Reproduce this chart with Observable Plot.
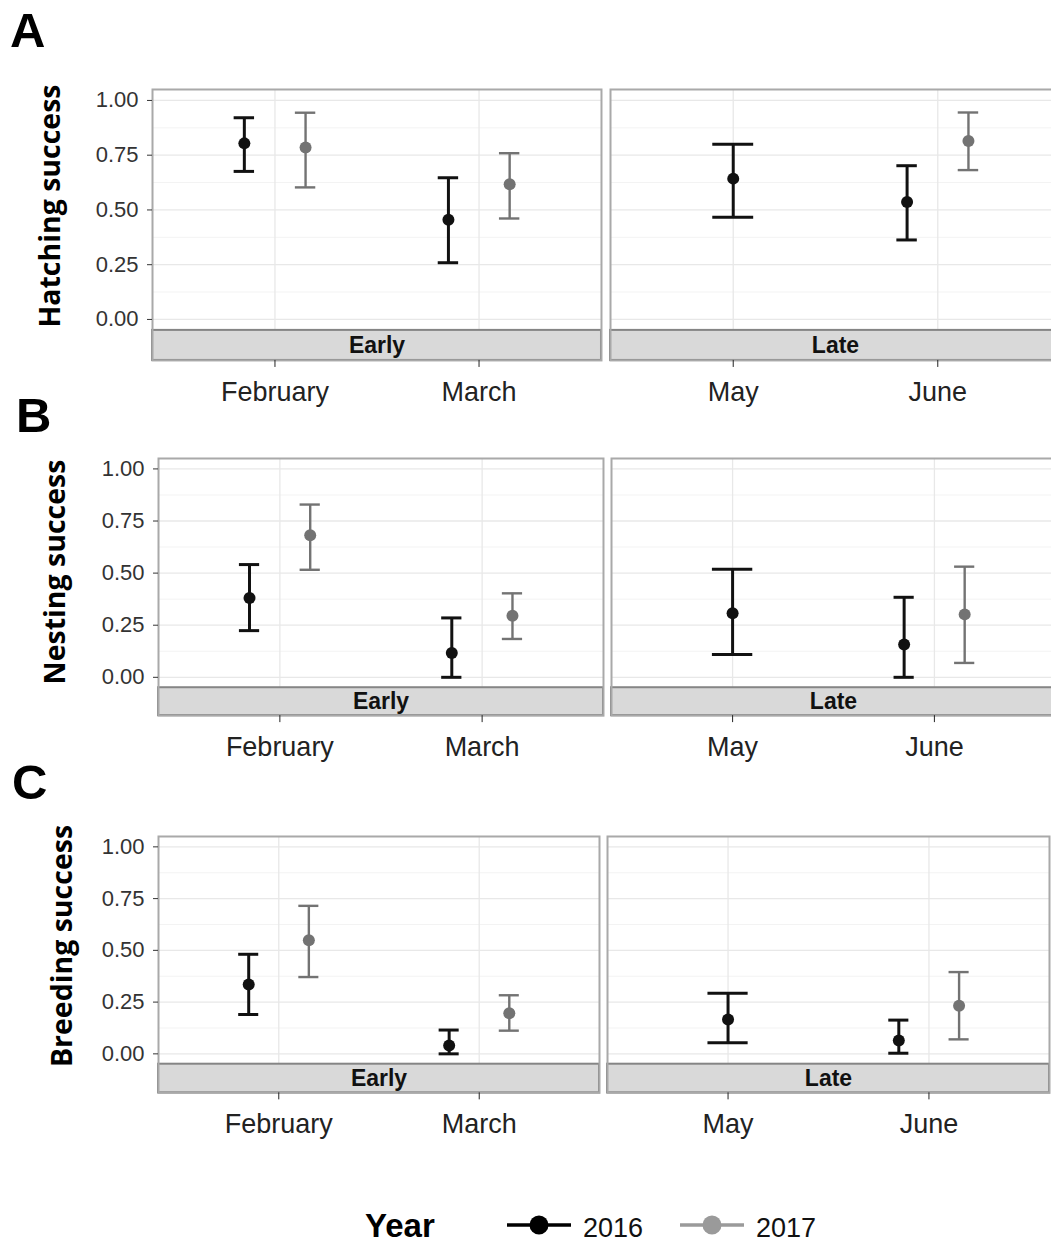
<!DOCTYPE html>
<html><head><meta charset="utf-8">
<script src="https://cdn.jsdelivr.net/npm/d3@7"></script>
<script src="https://cdn.jsdelivr.net/npm/@observablehq/plot@0.6"></script>
<style>
html,body{margin:0;padding:0;background:#fff;}
#fig{position:relative;width:1051px;height:1243px;overflow:hidden;background:#fff;font-family:"Liberation Sans",Arial,sans-serif;}
#fig svg{position:absolute;}
</style></head><body><div id="fig"></div>
<script>
// ---------- data ----------
const months = ["February", "March", "May", "June"];
const periods = ["Early", "Early", "Late", "Late"];
const years = ["2016", "2017"];
const yTicks = [0, 0.25, 0.5, 0.75, 1];
const yMinorTicks = [0.125, 0.375, 0.625, 0.875];
const metrics = ["Hatching success", "Nesting success", "Breeding success"];
const panelLetters = ["A", "B", "C"];
// [estimate, lower CI, upper CI] per month; null = not sampled
const hatching2016 = [[0.804, 0.676, 0.921], [0.455, 0.259, 0.647], [0.643, 0.467, 0.800], [0.536, 0.363, 0.702]];
const hatching2017 = [[0.785, 0.603, 0.944], [0.617, 0.461, 0.759], null, [0.815, 0.682, 0.945]];
const nesting2016 = [[0.381, 0.224, 0.541], [0.117, 0.000, 0.285], [0.307, 0.109, 0.518], [0.157, 0.000, 0.384]];
const nesting2017 = [[0.682, 0.516, 0.829], [0.295, 0.184, 0.403], null, [0.302, 0.069, 0.531]];
const breeding2016 = [[0.335, 0.190, 0.481], [0.040, 0.000, 0.115], [0.166, 0.054, 0.293], [0.064, 0.003, 0.163]];
const breeding2017 = [[0.549, 0.371, 0.715], [0.196, 0.112, 0.283], null, [0.232, 0.070, 0.395]];

const series = [[hatching2016, hatching2017], [nesting2016, nesting2017], [breeding2016, breeding2017]];
const colors = ["#111111", "#737373"];
const legendColors = ["#000000", "#9a9a9a"];

// ---------- layout (pixels) ----------
const layout = [
  {y1: 100, y0: 319, stripBottom: 360, early: [152, 601], late: [610, 1060], letterX: 10, letterY: 47, titleX: 49, titleY: 206},
  {y1: 468.3, y0: 676.7, stripBottom: 715, early: [158, 603], late: [611, 1055], letterX: 16, letterY: 432, titleX: 54, titleY: 572},
  {y1: 846, y0: 1053, stripBottom: 1092, early: [158, 599], late: [607, 1049], letterX: 12, letterY: 799, titleX: 61, titleY: 946}
];

const fig = document.getElementById("fig");

function records(s2016, s2017) {
  const out = [];
  months.forEach((m, i) => {
    const vals = [s2016[i], s2017[i]];
    const n = vals.filter(v => v).length;
    vals.forEach((v, k) => {
      if (!v) return;
      const slot = n === 2 ? (k === 0 ? -1 : 1) : 0;
      out.push({
        month: m, period: periods[i], year: years[k],
        pos: (i % 2) + 1 + slot * 0.15,
        half: n === 2 ? 0.05 : 0.1,
        est: v[0], lo: v[1], hi: v[2]
      });
    });
  });
  return out;
}

function panel(recs, period, geom, frameX, showY) {
  const unit = geom.y0 - geom.y1;
  const yTop = 1.05, stripTop = -0.05;
  const yLow = -(geom.stripBottom - geom.y0) / unit;
  const frameTop = geom.y1 - 0.05 * unit;
  const mt = 8, mb = 64, pad = 4;
  const ml = showY ? frameX[0] : pad, mr = pad;
  const width = ml + (frameX[1] - frameX[0]) + mr;
  const height = mt + (geom.stripBottom - frameTop) + mb;
  const periodMonths = months.filter((m, i) => periods[i] === period);
  const data = recs.filter(d => d.period === period);
  const sw = d => d.year === years[0] ? 3 : 2.4;
  const marks = [
    Plot.ruleY(yMinorTicks, {stroke: "#f3f3f3", strokeWidth: 1}),
    Plot.ruleY(yTicks, {stroke: "#e8e8e8", strokeWidth: 1.3}),
    Plot.ruleX([1, 2], {stroke: "#e8e8e8", strokeWidth: 1.3}),
    Plot.rect([period], {y1: yLow, y2: stripTop, fill: "#d9d9d9", stroke: "#858585", strokeWidth: 2}),
    Plot.text([period], {y: (yLow + stripTop) / 2, text: d => d, fontSize: 23, fontWeight: "bold", fill: "#111"}),
    Plot.frame({stroke: "#a9a9a9", strokeWidth: 2}),
    Plot.axisX({ticks: [1, 2], tickFormat: i => periodMonths[i - 1], tickSize: 7, tickPadding: 14, fontSize: 27, color: "#222", label: null}),
    Plot.ruleX(data, {x: "pos", y1: "lo", y2: "hi", stroke: "year", strokeWidth: sw}),
    Plot.ruleY(data, {y: "hi", x1: d => d.pos - d.half, x2: d => d.pos + d.half, stroke: "year", strokeWidth: sw}),
    Plot.ruleY(data, {y: "lo", x1: d => d.pos - d.half, x2: d => d.pos + d.half, stroke: "year", strokeWidth: sw}),
    Plot.dot(data, {x: "pos", y: "est", r: 6, fill: "year"})
  ];
  if (showY) marks.push(Plot.axisY({ticks: yTicks, tickFormat: d3.format(".2f"), tickSize: 5, tickPadding: 9, fontSize: 22, color: "#333", label: null}));
  const yOpts = {domain: [yLow, yTop]};
  if (!showY) yOpts.axis = null;
  const svg = Plot.plot({
    width, height, marginLeft: ml, marginRight: mr, marginTop: mt, marginBottom: mb,
    style: {fontFamily: "'Liberation Sans', Arial, sans-serif", background: "transparent"},
    x: {domain: [0.4, 2.6]},
    y: yOpts,
    color: {domain: years, range: colors},
    marks
  });
  svg.style.left = (showY ? 0 : frameX[0] - pad) + "px";
  svg.style.top = (frameTop - mt) + "px";
  fig.appendChild(svg);
}

series.forEach(([s16, s17], r) => {
  const recs = records(s16, s17);
  panel(recs, "Early", layout[r], layout[r].early, true);
  panel(recs, "Late", layout[r], layout[r].late, false);
});

// ---------- overlay: panel letters, y titles, legend ----------
const ov = d3.select(fig).append("svg")
  .attr("width", 1051).attr("height", 1243)
  .style("left", "0px").style("top", "0px").style("pointer-events", "none");

layout.forEach((g, r) => {
  ov.append("text").attr("x", g.letterX).attr("y", g.letterY)
    .attr("font-family", "'Liberation Sans', Arial, sans-serif").attr("font-weight", "bold")
    .attr("font-size", 49).attr("fill", "#000").text(panelLetters[r]);
  ov.append("text")
    .attr("transform", `translate(${g.titleX},${g.titleY}) rotate(-90)`)
    .attr("text-anchor", "middle").attr("dominant-baseline", "central")
    .attr("font-family", "'Open Sans', sans-serif").attr("font-weight", "bold")
    .attr("font-size", 28.5).attr("fill", "#000").text(metrics[r]);
});

const lg = ov.append("g");
lg.append("text").attr("x", 365).attr("y", 1237)
  .attr("font-family", "'Liberation Sans', Arial, sans-serif").attr("font-weight", "bold")
  .attr("font-size", 33).attr("fill", "#000").text("Year");
const legendX = [507, 680];
years.forEach((y, k) => {
  const x0 = legendX[k];
  lg.append("line").attr("x1", x0).attr("x2", x0 + 64).attr("y1", 1225).attr("y2", 1225)
    .attr("stroke", legendColors[k]).attr("stroke-width", 3.5);
  lg.append("circle").attr("cx", x0 + 32).attr("cy", 1225).attr("r", 9.5).attr("fill", legendColors[k]);
  lg.append("text").attr("x", x0 + 76).attr("y", 1237)
    .attr("font-family", "'Liberation Sans', Arial, sans-serif")
    .attr("font-size", 27).attr("fill", "#111").text(y);
});
</script></body></html>
